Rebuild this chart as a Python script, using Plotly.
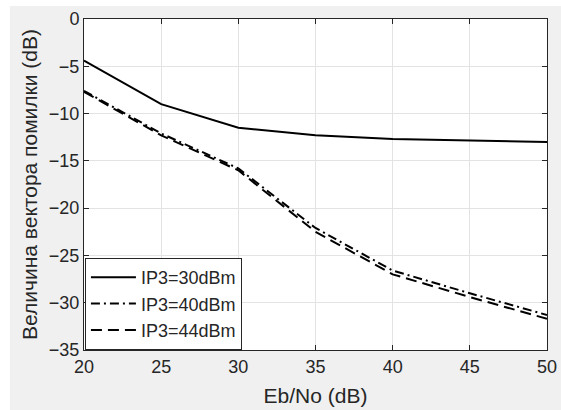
import plotly.graph_objects as go

ebno = [20, 25, 30, 35, 40, 45, 50]
evm_ip3_30 = [-4.4, -9.0, -11.5, -12.3, -12.7, -12.85, -13.0]
evm_ip3_40 = [-7.6, -12.1, -15.8, -22.1, -26.6, -29.0, -31.3]
evm_ip3_44 = [-7.7, -12.3, -16.0, -22.5, -27.0, -29.4, -31.7]

x_ticks = [20, 25, 30, 35, 40, 45, 50]
y_ticks = [0, -5, -10, -15, -20, -25, -30, -35]

txt = '#262626'
fnt = 'Liberation Sans, Arial, sans-serif'

fig = go.Figure()
fig.add_trace(go.Scatter(x=ebno, y=evm_ip3_30, mode='lines', name='IP3=30dBm',
                         line=dict(color='black', width=2)))
fig.add_trace(go.Scatter(x=ebno, y=evm_ip3_40, mode='lines', name='IP3=40dBm',
                         line=dict(color='black', width=2, dash='9px,4px,2px,4px')))
fig.add_trace(go.Scatter(x=ebno, y=evm_ip3_44, mode='lines', name='IP3=44dBm',
                         line=dict(color='black', width=2, dash='11px,6px')))

# grey figure background with a thin white strip top/left, white axes box
fig.add_shape(type='rect', xref='paper', yref='paper', x0=-0.16, x1=1.1, y0=-0.25, y1=1.039,
              fillcolor='#f0f0f0', line_width=0, layer='below')
fig.add_shape(type='rect', xref='paper', yref='paper', x0=0, x1=1, y0=0, y1=1,
              fillcolor='white', line_width=0, layer='below')

axis = dict(showline=True, linecolor=txt, linewidth=1, mirror='ticks', ticks='inside',
            ticklen=5, tickcolor=txt, showgrid=True, gridcolor='#e3e3e3', gridwidth=1,
            zeroline=False, automargin=False, tickfont=dict(size=18, color=txt, family=fnt))

fig.update_xaxes(range=[20, 50], tickvals=x_ticks,
                 title=dict(text='Eb/No (dB)', font=dict(size=21, color=txt, family=fnt), standoff=12),
                 **axis)
fig.update_yaxes(range=[-35, 0], tickvals=y_ticks,
                 title=dict(text='Величина вектора помилки (dB)', font=dict(size=21, color=txt, family=fnt), standoff=5),
                 **axis)

fig.update_layout(
    width=561, height=410,
    margin=dict(l=84, r=14, t=19, b=60),
    paper_bgcolor='white', plot_bgcolor='rgba(0,0,0,0)',
    font=dict(family=fnt, color=txt),
    legend=dict(x=0.002, y=0, xanchor='left', yanchor='bottom', bgcolor='white',
                bordercolor=txt, borderwidth=1, font=dict(size=18, color=txt, family=fnt),
                tracegroupgap=0, itemwidth=45),
    showlegend=True,
)

# drop the default 8px page margin so the figure fills the window
fig.write_html('out.html', config={'displayModeBar': False},
               post_script="document.body.style.margin='0px';document.body.style.overflow='hidden';")
